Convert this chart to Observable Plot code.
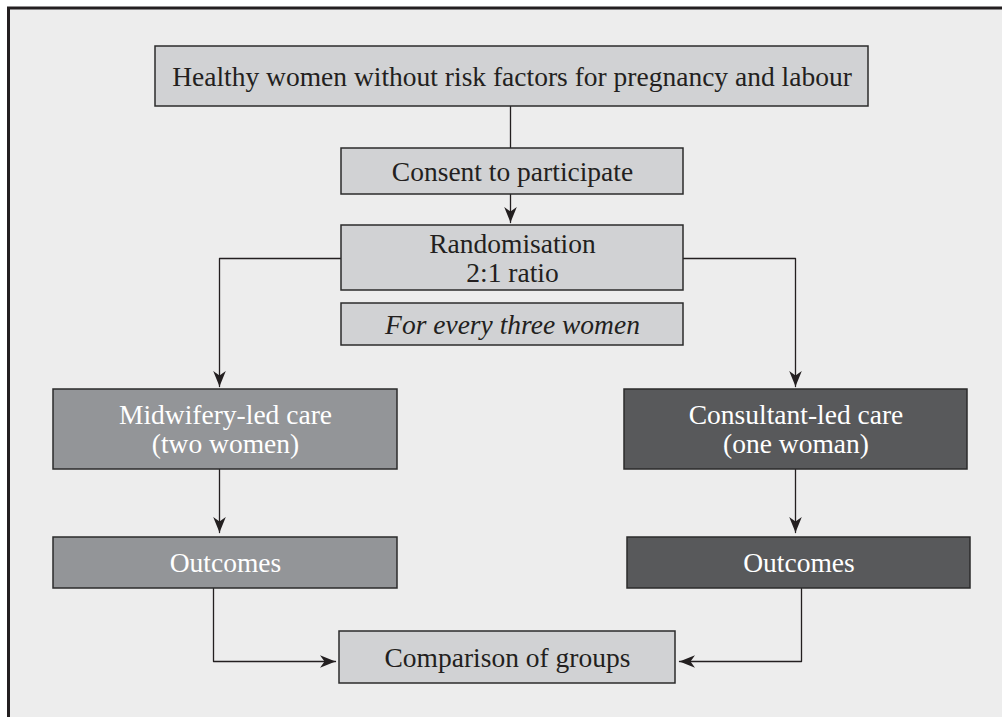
<!DOCTYPE html>
<html>
<head>
<meta charset="utf-8">
<script src="https://cdn.jsdelivr.net/npm/d3@7"></script>
<script src="https://cdn.jsdelivr.net/npm/@observablehq/plot@0.6"></script>
<style>
  html, body { margin: 0; padding: 0; background: #ffffff; overflow: hidden; }
  #chart { width: 1002px; height: 717px; overflow: hidden; }
  #chart svg { display: block; overflow: hidden; }
</style>
</head>
<body>
<div id="chart"></div>
<script>
// ---- Node content ----
const nodeLabels = [
  "Healthy women without risk factors for pregnancy and labour",
  "Consent to participate",
  "Randomisation\n2:1 ratio",
  "For every three women",
  "Midwifery-led care\n(two women)",
  "Consultant-led care\n(one woman)",
  "Outcomes",
  "Outcomes",
  "Comparison of groups"
];
const nodeGroups = ["neutral", "neutral", "neutral", "note", "midwifery", "consultant", "midwifery", "consultant", "neutral"];

// ---- Node layout (diagram coordinates) ----
const nodeLeft   = [155, 341, 341, 341, 53, 624, 53, 627, 339];
const nodeRight  = [868, 683, 683, 683, 397, 967, 397, 970, 675];
const nodeTop    = [46, 148, 225, 303, 389, 389, 537, 537, 631];
const nodeBottom = [106, 194, 290, 345, 469, 469, 588, 588, 683];

// ---- Connectors (polyline vertices, last vertex = arrow tip when arrowed) ----
const edgeXs = [
  [510, 510],
  [510, 510],
  [341, 219, 219],
  [683, 795, 795],
  [219, 219],
  [795, 795],
  [213, 213, 335],
  [801, 801, 679]
];
const edgeYs = [
  [106, 148],
  [194, 222],
  [258, 258, 386],
  [258, 258, 386],
  [469, 532],
  [469, 532],
  [588, 661, 661],
  [588, 661, 661]
];
const edgeArrow = [false, true, true, true, true, true, true, true];

// ---- Build tables for Plot ----
const groupDomain = ["neutral", "note", "midwifery", "consultant"];
const groupFill = ["#d1d2d4", "#d1d2d4", "#939598", "#58595b"];
const groupText = ["#231f20", "#231f20", "#ffffff", "#ffffff"];
const textColorOf = g => groupText[groupDomain.indexOf(g)];

const nodes = nodeLabels.map((label, i) => ({
  label, group: nodeGroups[i],
  x1: nodeLeft[i], x2: nodeRight[i], y1: nodeTop[i], y2: nodeBottom[i],
  cx: (nodeLeft[i] + nodeRight[i]) / 2, cy: (nodeTop[i] + nodeBottom[i]) / 2
}));

const edgePoints = edgeXs.flatMap((xs, e) => xs.map((x, k) => ({edge: e, x, y: edgeYs[e][k]})));

const heads = edgeXs.map((xs, e) => {
  if (!edgeArrow[e]) return null;
  const n = xs.length;
  const dx = xs[n - 1] - xs[n - 2], dy = edgeYs[e][n - 1] - edgeYs[e][n - 2];
  const angle = dy > 0 ? 180 : dy < 0 ? 0 : dx > 0 ? 90 : -90;
  return {x: xs[n - 1], y: edgeYs[e][n - 1], angle};
}).filter(d => d);

// stealth arrowhead: tip at origin, pointing up (negative y)
const stealth = {
  draw(context) {
    context.moveTo(0, 0);
    context.lineTo(6.3, 15.5);
    context.lineTo(0, 11);
    context.lineTo(-6.3, 15.5);
    context.closePath();
  }
};

const W = 1002, H = 717;
const font = "'Liberation Serif', 'Times New Roman', serif";
const fs = 27.5;

const chart = Plot.plot({
  width: W,
  height: H,
  margin: 0,
  x: {domain: [0, W], range: [0, W], axis: null},
  y: {domain: [0, H], range: [0, H], axis: null},
  color: {domain: groupDomain, range: groupFill},
  style: {background: "transparent", overflow: "hidden"},
  marks: [
    // panel (right and bottom edges fall outside the picture)
    Plot.rect([{x1: 8.5, x2: W + 6, y1: 8, y2: H + 6}], {
      x1: "x1", x2: "x2", y1: "y1", y2: "y2",
      fill: "#ededed", stroke: "#231f20", strokeWidth: 3
    }),
    // connectors
    Plot.line(edgePoints, {
      x: "x", y: "y", z: "edge",
      stroke: "#231f20", strokeWidth: 1.3, curve: "linear"
    }),
    Plot.dot(heads, {
      x: "x", y: "y", rotate: "angle", symbol: stealth,
      fill: "#231f20", stroke: "none", r: 6
    }),
    // boxes
    Plot.rect(nodes, {
      x1: "x1", x2: "x2", y1: "y1", y2: "y2",
      fill: "group", stroke: "#2b2b2b", strokeWidth: 1.5
    }),
    // labels
    Plot.text(nodes.filter(d => d.group !== "note"), {
      x: "cx", y: "cy", text: "label",
      fill: d => textColorOf(d.group),
      fontSize: fs, fontFamily: font, lineHeight: 1.055,
      lineAnchor: "middle", textAnchor: "middle"
    }),
    Plot.text(nodes.filter(d => d.group === "note"), {
      x: "cx", y: "cy", text: "label",
      fill: d => textColorOf(d.group),
      fontSize: fs, fontFamily: font, fontStyle: "italic", lineHeight: 1.055,
      lineAnchor: "middle", textAnchor: "middle"
    })
  ]
});

document.getElementById("chart").appendChild(chart);
</script>
</body>
</html>
